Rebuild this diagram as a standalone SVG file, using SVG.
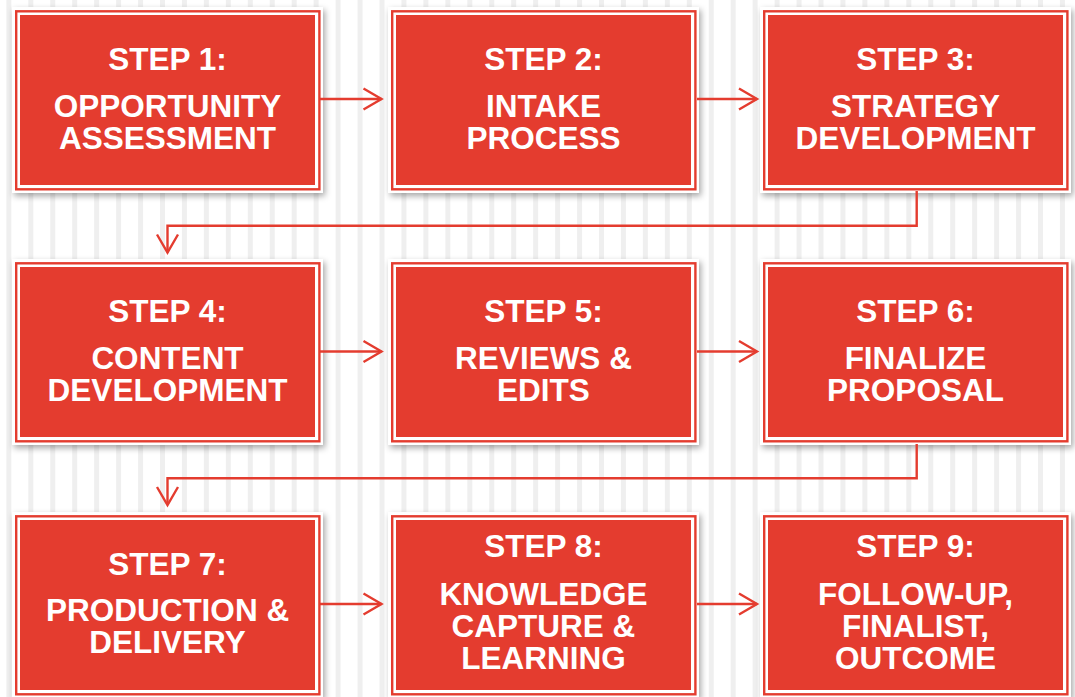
<svg xmlns="http://www.w3.org/2000/svg" width="1075" height="697" viewBox="0 0 1075 697">
  <defs>
    <pattern id="stripes" patternUnits="userSpaceOnUse" x="6.35" y="0" width="21.95" height="697">
      <rect x="0" y="0" width="5" height="697" fill="#efefef"/>
    </pattern>
    <filter id="shadow" x="-5%" y="-5%" width="112%" height="115%">
      <feDropShadow dx="2" dy="3" stdDeviation="3" flood-color="#000" flood-opacity="0.35"/>
    </filter>
    <marker id="chev" markerUnits="userSpaceOnUse" markerWidth="30" markerHeight="30" viewBox="-22 -15 30 30" refX="0" refY="0" orient="auto" overflow="visible">
      <path d="M-18,-10.5 L0,0 L-18,10.5" fill="none" stroke="#e43c2f" stroke-width="2.4"/>
    </marker>
    <style>
      .frame { fill: #ffffff; filter: url(#shadow); }
      .rule { fill: none; stroke: #e43c2f; stroke-width: 2.4; }
      .fill { fill: #e43c2f; }
      .label { font-family: "Liberation Sans", Arial, sans-serif; font-weight: bold; font-size: 31.5px; fill: #ffffff; text-anchor: middle; }
      .conn { fill: none; stroke: #e43c2f; stroke-width: 2.4; marker-end: url(#chev); }
    </style>
  </defs>

  <!-- background -->
  <rect x="0" y="0" width="1075" height="697" fill="#ffffff"/>
  <rect x="0" y="0" width="1075" height="697" fill="url(#stripes)"/>

  <!-- row 1 -->
  <g id="step1" transform="translate(12,7)">
    <rect class="frame" width="311" height="186"/>
    <rect class="rule" x="4.2" y="4.3" width="303.2" height="178"/>
    <rect class="fill" x="8" y="8" width="295" height="170"/>
    <text class="label" x="155.5" y="63">STEP 1:</text>
    <text class="label" x="155.5" y="109.7">OPPORTUNITY</text>
    <text class="label" x="155.5" y="142">ASSESSMENT</text>
  </g>
  <g id="step2" transform="translate(388,7)">
    <rect class="frame" width="311" height="186"/>
    <rect class="rule" x="4.2" y="4.3" width="303.2" height="178"/>
    <rect class="fill" x="8" y="8" width="295" height="170"/>
    <text class="label" x="155.5" y="63">STEP 2:</text>
    <text class="label" x="155.5" y="109.7">INTAKE</text>
    <text class="label" x="155.5" y="142">PROCESS</text>
  </g>
  <g id="step3" transform="translate(760,7)">
    <rect class="frame" width="311" height="186"/>
    <rect class="rule" x="4.2" y="4.3" width="303.2" height="178"/>
    <rect class="fill" x="8" y="8" width="295" height="170"/>
    <text class="label" x="155.5" y="63">STEP 3:</text>
    <text class="label" x="155.5" y="109.7">STRATEGY</text>
    <text class="label" x="155.5" y="142">DEVELOPMENT</text>
  </g>

  <!-- row 2 -->
  <g id="step4" transform="translate(12,259)">
    <rect class="frame" width="311" height="186"/>
    <rect class="rule" x="4.2" y="4.3" width="303.2" height="178"/>
    <rect class="fill" x="8" y="8" width="295" height="170"/>
    <text class="label" x="155.5" y="63">STEP 4:</text>
    <text class="label" x="155.5" y="109.7">CONTENT</text>
    <text class="label" x="155.5" y="142">DEVELOPMENT</text>
  </g>
  <g id="step5" transform="translate(388,259)">
    <rect class="frame" width="311" height="186"/>
    <rect class="rule" x="4.2" y="4.3" width="303.2" height="178"/>
    <rect class="fill" x="8" y="8" width="295" height="170"/>
    <text class="label" x="155.5" y="63">STEP 5:</text>
    <text class="label" x="155.5" y="109.7">REVIEWS &amp;</text>
    <text class="label" x="155.5" y="142">EDITS</text>
  </g>
  <g id="step6" transform="translate(760,259)">
    <rect class="frame" width="311" height="186"/>
    <rect class="rule" x="4.2" y="4.3" width="303.2" height="178"/>
    <rect class="fill" x="8" y="8" width="295" height="170"/>
    <text class="label" x="155.5" y="63">STEP 6:</text>
    <text class="label" x="155.5" y="109.7">FINALIZE</text>
    <text class="label" x="155.5" y="142">PROPOSAL</text>
  </g>

  <!-- row 3 -->
  <g id="step7" transform="translate(12,512)">
    <rect class="frame" width="311" height="186"/>
    <rect class="rule" x="4.2" y="4.3" width="303.2" height="178"/>
    <rect class="fill" x="8" y="8" width="295" height="170"/>
    <text class="label" x="155.5" y="63">STEP 7:</text>
    <text class="label" x="155.5" y="108.5">PRODUCTION &amp;</text>
    <text class="label" x="155.5" y="140.5">DELIVERY</text>
  </g>
  <g id="step8" transform="translate(388,512)">
    <rect class="frame" width="311" height="186"/>
    <rect class="rule" x="4.2" y="4.3" width="303.2" height="178"/>
    <rect class="fill" x="8" y="8" width="295" height="170"/>
    <text class="label" x="155.5" y="45">STEP 8:</text>
    <text class="label" x="155.5" y="93">KNOWLEDGE</text>
    <text class="label" x="155.5" y="125">CAPTURE &amp;</text>
    <text class="label" x="155.5" y="157">LEARNING</text>
  </g>
  <g id="step9" transform="translate(760,512)">
    <rect class="frame" width="311" height="186"/>
    <rect class="rule" x="4.2" y="4.3" width="303.2" height="178"/>
    <rect class="fill" x="8" y="8" width="295" height="170"/>
    <text class="label" x="155.5" y="45">STEP 9:</text>
    <text class="label" x="155.5" y="93">FOLLOW-UP,</text>
    <text class="label" x="155.5" y="125">FINALIST,</text>
    <text class="label" x="155.5" y="157">OUTCOME</text>
  </g>

  <!-- connectors -->
  <g id="connectors">
    <path class="conn" d="M320,99 H381.5"/>
    <path class="conn" d="M697,99 H757"/>
    <path class="conn" d="M916.7,191 V225.7 H167.5 V252.5"/>
    <path class="conn" d="M320,351.5 H381.5"/>
    <path class="conn" d="M697,351.5 H757"/>
    <path class="conn" d="M916.7,444 V478.3 H167.5 V505"/>
    <path class="conn" d="M320,604 H381.5"/>
    <path class="conn" d="M697,604 H757"/>
  </g>
</svg>
